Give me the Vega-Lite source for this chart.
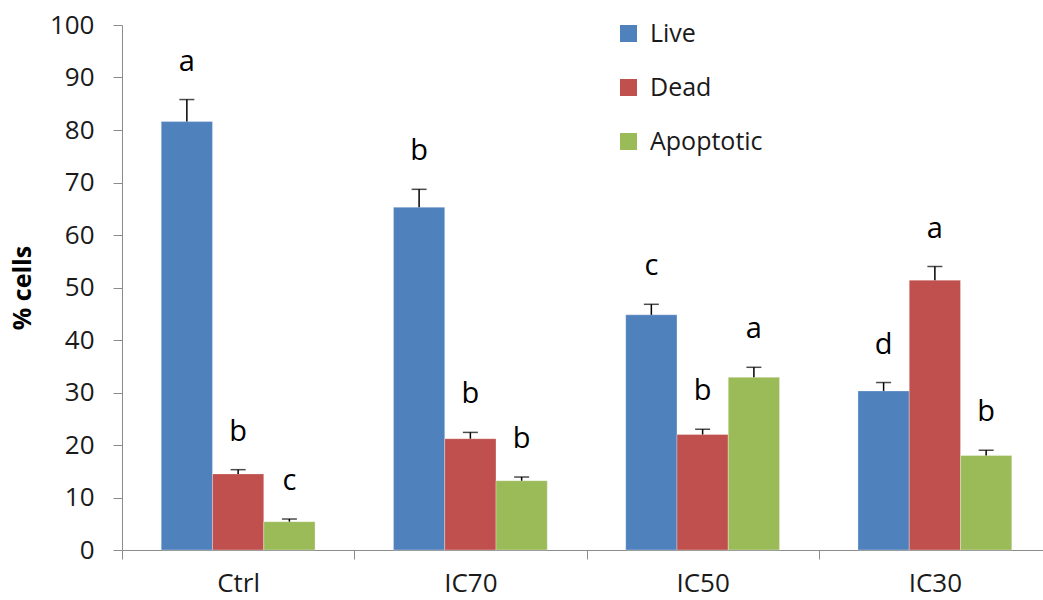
{
  "$schema": "https://vega.github.io/schema/vega-lite/v6.json",
  "width": 929,
  "height": 525,
  "autosize": {"type": "none"},
  "padding": {"left": 122, "top": 25, "right": 0, "bottom": 50},
  "background": "white",
  "config": {
    "view": {"stroke": null},
    "font": "Open Sans",
    "axis": {"grid": false, "domainColor": "#8c8c8c", "tickColor": "#8c8c8c", "labelColor": "#1a1a1a", "labelFont": "Open Sans", "titleFont": "Open Sans", "labelOverlap": false}
  },
  "data": {
    "values": [
      {"group": "Ctrl", "type": "Live", "value": 81.6, "err": 85.8, "letter": "a"},
      {"group": "Ctrl", "type": "Dead", "value": 14.5, "err": 15.3, "letter": "b"},
      {"group": "Ctrl", "type": "Apoptotic", "value": 5.4, "err": 5.9, "letter": "c"},
      {"group": "IC70", "type": "Live", "value": 65.3, "err": 68.7, "letter": "b"},
      {"group": "IC70", "type": "Dead", "value": 21.2, "err": 22.4, "letter": "b"},
      {"group": "IC70", "type": "Apoptotic", "value": 13.2, "err": 13.9, "letter": "b"},
      {"group": "IC50", "type": "Live", "value": 44.8, "err": 46.8, "letter": "c"},
      {"group": "IC50", "type": "Dead", "value": 22.0, "err": 23.0, "letter": "b"},
      {"group": "IC50", "type": "Apoptotic", "value": 32.9, "err": 34.8, "letter": "a"},
      {"group": "IC30", "type": "Live", "value": 30.3, "err": 31.9, "letter": "d"},
      {"group": "IC30", "type": "Dead", "value": 51.4, "err": 54.0, "letter": "a"},
      {"group": "IC30", "type": "Apoptotic", "value": 18.0, "err": 19.0, "letter": "b"}
    ]
  },
  "encoding": {
    "x": {
      "field": "group", "type": "nominal", "sort": ["Ctrl", "IC70", "IC50", "IC30"],
      "scale": {"paddingInner": 0, "paddingOuter": 0},
      "axis": {"title": null, "labelAngle": 0, "tickBand": "extent", "tickSize": 9, "labelPadding": 11, "labelFontSize": 26}
    },
    "xOffset": {"field": "type", "type": "nominal", "sort": ["Live", "Dead", "Apoptotic"], "scale": {"paddingInner": 0, "paddingOuter": 0.765}}
  },
  "layer": [
    {
      "mark": {"type": "bar", "stroke": "#ffffff", "strokeWidth": 0.6, "strokeOpacity": 0.5},
      "encoding": {
        "y": {
          "field": "value", "type": "quantitative",
          "scale": {"domain": [0, 100], "nice": false},
          "axis": {"title": "% cells", "titleFontSize": 25, "titleFontWeight": "bold", "titleColor": "#000000", "titlePadding": 14, "values": [0,10,20,30,40,50,60,70,80,90,100], "tickSize": 9, "labelPadding": 19, "labelFontSize": 26}
        },
        "color": {
          "field": "type", "type": "nominal", "sort": ["Live", "Dead", "Apoptotic"],
          "scale": {"domain": ["Live", "Dead", "Apoptotic"], "range": ["#4F81BD", "#C0504D", "#9BBB59"]},
          "legend": {"title": null, "orient": "none", "legendX": 494, "legendY": -4, "symbolType": "square", "symbolSize": 289, "symbolStrokeWidth": 0, "symbolOpacity": 1, "labelFontSize": 25, "labelColor": "#1a1a1a", "rowPadding": 28, "labelOffset": 9}
        }
      }
    },
    {
      "mark": {"type": "rule", "color": "#000000", "strokeWidth": 1.5},
      "encoding": {
        "y": {"field": "value", "type": "quantitative"},
        "y2": {"field": "err"}
      }
    },
    {
      "mark": {"type": "tick", "color": "#000000", "thickness": 1.5, "size": 15, "orient": "horizontal"},
      "encoding": {
        "y": {"field": "err", "type": "quantitative"}
      }
    },
    {
      "mark": {"type": "text", "fontSize": 29, "baseline": "alphabetic", "dy": -29, "color": "#000000"},
      "encoding": {
        "y": {"field": "err", "type": "quantitative"},
        "text": {"field": "letter"}
      }
    }
  ]
}
